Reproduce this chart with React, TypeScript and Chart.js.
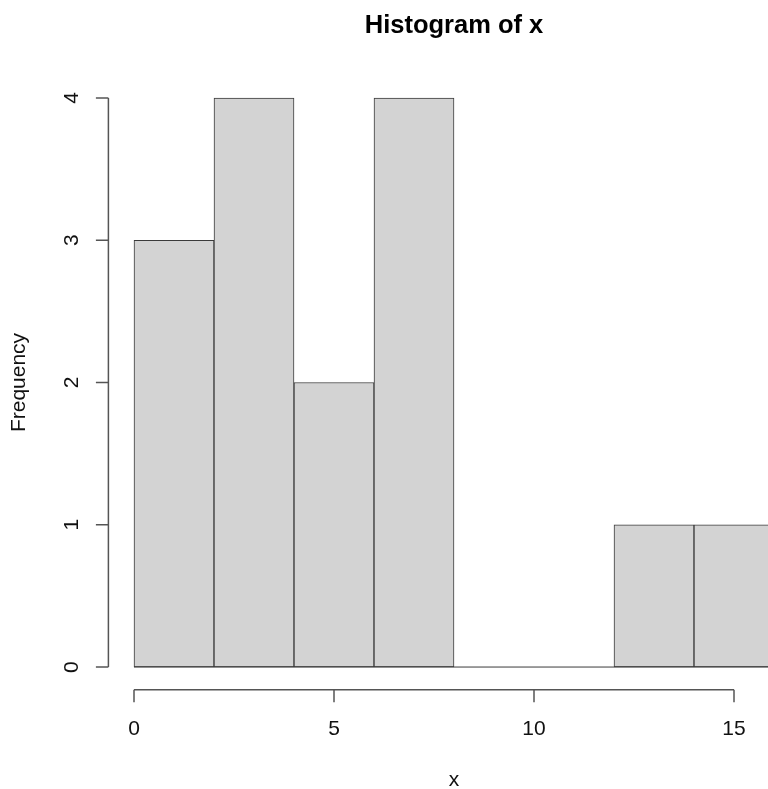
import React, { useEffect, useRef } from "react";
import { Chart, registerables } from "chart.js";

Chart.register(...registerables);

// ---- data ----
const binEdges = [0, 2, 4, 6, 8, 10, 12, 14, 16];
const counts = [3, 4, 2, 4, 0, 0, 1, 1];
const xTicks = [0, 5, 10, 15];
const yTicks = [0, 1, 2, 3, 4];
const titleText = "Histogram of x";
const xLabel = "x";
const yLabel = "Frequency";

const FONT = "'Liberation Sans', Arial, Helvetica, sans-serif";
const CANVAS_W = 830;
const CANVAS_H = 789;

export default function App() {
  const ref = useRef<HTMLCanvasElement | null>(null);

  useEffect(() => {
    if (!ref.current) return;
    const lo = binEdges[0];
    const hi = binEdges[binEdges.length - 1];
    const xr = hi - lo;
    const yMaxData = Math.max(...counts);
    const barData = counts.map((c, i) => ({ x: (binEdges[i] + binEdges[i + 1]) / 2, y: c }));
    const baseData = [
      { x: binEdges[0], y: 0 },
      { x: binEdges[binEdges.length - 1], y: 0 },
    ];

    const rAxes = {
      id: "rAxes",
      afterDraw(chart: any) {
        const ctx = chart.ctx;
        const ax = chart.scales.x;
        const ay = chart.scales.y;
        const area = chart.chartArea;
        ctx.save();
        ctx.strokeStyle = "#555";
        ctx.lineWidth = 1.5;
        // y axis
        const yx = area.left;
        ctx.beginPath();
        ctx.moveTo(yx, ay.getPixelForValue(yTicks[0]));
        ctx.lineTo(yx, ay.getPixelForValue(yTicks[yTicks.length - 1]));
        yTicks.forEach((v) => {
          const py = ay.getPixelForValue(v);
          ctx.moveTo(yx, py);
          ctx.lineTo(yx - 12.5, py);
        });
        // x axis
        const xy = area.bottom;
        ctx.moveTo(ax.getPixelForValue(xTicks[0]), xy);
        ctx.lineTo(ax.getPixelForValue(xTicks[xTicks.length - 1]), xy);
        xTicks.forEach((v) => {
          const px = ax.getPixelForValue(v);
          ctx.moveTo(px, xy);
          ctx.lineTo(px, xy + 12.5);
        });
        ctx.stroke();

        ctx.fillStyle = "#111";
        ctx.font = `21px ${FONT}`;
        ctx.textAlign = "center";
        ctx.textBaseline = "alphabetic";
        // x tick labels
        xTicks.forEach((v) => {
          ctx.fillText(String(v), ax.getPixelForValue(v), xy + 45);
        });
        // y tick labels (rotated, R las=0)
        yTicks.forEach((v) => {
          ctx.save();
          ctx.translate(yx - 30, ay.getPixelForValue(v));
          ctx.rotate(-Math.PI / 2);
          ctx.fillText(String(v), 0, 0);
          ctx.restore();
        });
        const cx = (area.left + area.right) / 2;
        const cy = (area.top + area.bottom) / 2;
        // axis titles
        ctx.fillText(xLabel, cx, xy + 96);
        ctx.save();
        ctx.translate(24.5, cy);
        ctx.rotate(-Math.PI / 2);
        ctx.fillText(yLabel, 0, 0);
        ctx.restore();
        // main title
        ctx.fillStyle = "#000";
        ctx.font = `bold 25.5px ${FONT}`;
        ctx.fillText(titleText, cx, 33);
        ctx.restore();
      },
    };

    const chart = new Chart(ref.current, {
      type: "bar",
      data: {
        datasets: [
          {
            type: "bar",
            data: barData as any,
            backgroundColor: "#D3D3D3",
            borderColor: "#3a3a3a",
            borderWidth: 1,
            borderSkipped: false,
            barPercentage: 1,
            categoryPercentage: 1,
            order: 2,
          } as any,
          {
            type: "line",
            data: baseData as any,
            borderColor: "#3a3a3a",
            borderWidth: 1,
            pointRadius: 0,
            order: 1,
          } as any,
        ],
      },
      options: {
        animation: false,
        responsive: false,
        devicePixelRatio: 1,
        layout: {
          padding: {
            left: 108.4,
            right: CANVAS_W - 799.6,
            top: 75.2,
            bottom: CANVAS_H - 689.8,
          },
        },
        plugins: {
          legend: { display: false },
          title: { display: false },
          tooltip: { enabled: false },
        },
        scales: {
          x: {
            type: "linear",
            display: false,
            min: lo - 0.04 * xr,
            max: hi + 0.04 * xr,
            offset: false,
          },
          y: {
            type: "linear",
            display: false,
            min: -0.04 * yMaxData,
            max: yMaxData * 1.04,
          },
        },
      },
      plugins: [rAxes],
    } as any);
    return () => chart.destroy();
  }, []);

  return (
    <div
      style={{
        position: "fixed",
        left: 0,
        top: 0,
        width: 768,
        height: 789,
        overflow: "hidden",
        background: "#fff",
      }}
    >
      <canvas ref={ref} width={CANVAS_W} height={CANVAS_H} style={{ display: "block", width: CANVAS_W, height: CANVAS_H }} />
    </div>
  );
}
